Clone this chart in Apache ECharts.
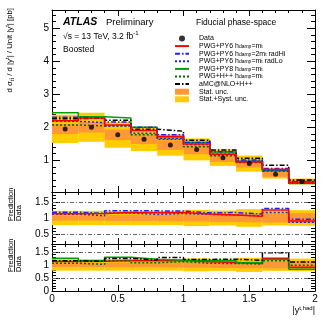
<!DOCTYPE html>
<html>
<head>
<meta charset="utf-8">
<script src="https://cdn.jsdelivr.net/npm/echarts@6/dist/echarts.min.js"></script>
<style>html,body{margin:0;padding:0;background:#fff}#chart{width:332px;height:322px}</style>
</head>
<body>
<div id="chart"></div>
<script>
// |y(t,had)| bins and measured cross-section [pb]
var binEdges = [0, 0.2, 0.4, 0.6, 0.8, 1.0, 1.2, 1.4, 1.6, 1.8, 2.0];
var dataVals = [1.95, 2.00, 1.77, 1.64, 1.46, 1.33, 1.08, 0.90, 0.58, 0.36];
// relative uncertainties
var statUnc = [0.08, 0.08, 0.09, 0.09, 0.10, 0.11, 0.12, 0.13, 0.14, 0.15];
var totUnc  = [0.22, 0.22, 0.22, 0.22, 0.22, 0.25, 0.23, 0.27, 0.23, 0.24];
// predictions [pb]
var pwgPy6 = [2.20, 2.28, 2.07, 1.90, 1.71, 1.49, 1.18, 0.945, 0.725, 0.328];
var radHi  = [2.30, 2.28, 2.16, 2.00, 1.77, 1.54, 1.26, 1.01, 0.75, 0.345];
var radLo  = [2.18, 2.14, 2.04, 1.82, 1.66, 1.48, 1.18, 0.96, 0.68, 0.313];
var pwgPy8 = [2.44, 2.32, 2.28, 2.00, 1.72, 1.54, 1.25, 0.97, 0.70, 0.30];
var pwgHpp = [2.07, 2.04, 2.05, 1.77, 1.64, 1.41, 1.14, 0.93, 0.67, 0.356];
var amcHpp = [2.26, 2.28, 2.21, 1.94, 1.88, 1.61, 1.31, 1.06, 0.85, 0.40];
// tick labels
var xLabels = [0, 0.5, 1, 1.5, 2];
var mainYLabels = [1, 2, 3, 4, 5];
var midYLabels = [0.5, 1, 1.5];
var lowYLabels = [0, 0.5, 1, 1.5];

var FONT = 'Liberation Sans, Arial, sans-serif';
var N_DATA = 'Data', N_PY6 = 'PWG+PY6', N_HI = 'PWG+PY6 radHi', N_LO = 'PWG+PY6 radLo',
    N_PY8 = 'PWG+PY8', N_HPP = 'PWG+H++', N_AMC = 'aMC@NLO+H++',
    N_STAT = 'Stat. unc.', N_TOT = 'Stat.+Syst. unc.';
var legendText = {};
legendText[N_DATA] = 'Data';
legendText[N_PY6] = 'PWG+PY6 h{s|damp}=m{s|t}';
legendText[N_HI] = 'PWG+PY6 h{s|damp}=2m{s|t} radHi';
legendText[N_LO] = 'PWG+PY6 h{s|damp}=m{s|t} radLo';
legendText[N_PY8] = 'PWG+PY8 h{s|damp}=m{s|t}';
legendText[N_HPP] = 'PWG+H++ h{s|damp}=m{s|t}';
legendText[N_AMC] = 'aMC@NLO+H++';
legendText[N_STAT] = 'Stat. unc.';
legendText[N_TOT] = 'Stat.+Syst. unc.';

var styles = {};
styles[N_PY6] = {color: '#ff0000', width: 1.5, type: 'solid'};
styles[N_HI]  = {color: '#1f1fff', width: 1.5, type: [5, 2, 1.5, 2]};
styles[N_LO]  = {color: '#1f1fff', width: 1.5, type: [2, 2]};
styles[N_PY8] = {color: '#00a000', width: 1.5, type: 'solid'};
styles[N_HPP] = {color: '#006a00', width: 1.5, type: [2, 2]};
styles[N_AMC] = {color: '#000000', width: 1.5, type: [5, 2, 1.5, 2]};

function seq(a, b, s) {
  var out = [];
  for (var v = a; v <= b + 1e-9; v += s) out.push(Math.round(v * 1000) / 1000);
  return out;
}

var grids = [], xAxes = [], yAxes = [];
function axis(list, g, pos, min, max, ticks, len, labels, line) {
  list.push({
    type: 'value', gridIndex: g, position: pos, min: min, max: max,
    axisLine: {show: line, onZero: false, lineStyle: {color: '#000', width: 1}},
    axisTick: {show: true, inside: true, length: len, customValues: ticks, lineStyle: {color: '#000', width: 1}},
    axisLabel: labels ? {show: true, customValues: labels, margin: 3, color: '#000', fontSize: 10, fontFamily: FONT} : {show: false},
    splitLine: {show: false}
  });
  return list.length - 1;
}
// one panel: frame with inside ticks on all four sides
function panel(top, height, ymin, ymax, yMaj, yMin, yLab, xLab, yLen) {
  var g = grids.length;
  grids.push({left: 52, top: top, width: 263, height: height, outerBoundsMode: 'none'});
  var xi = axis(xAxes, g, 'bottom', 0, 2, xLabels, 6, xLab, true);
  axis(xAxes, g, 'bottom', 0, 2, seq(0, 2, 0.1), 3, null, false);
  axis(xAxes, g, 'top', 0, 2, xLabels, 6, null, true);
  axis(xAxes, g, 'top', 0, 2, seq(0, 2, 0.1), 3, null, false);
  var yi = axis(yAxes, g, 'left', ymin, ymax, yMaj, yLen, yLab, true);
  axis(yAxes, g, 'left', ymin, ymax, yMin, yLen / 2, null, false);
  axis(yAxes, g, 'right', ymin, ymax, yMaj, yLen, null, true);
  axis(yAxes, g, 'right', ymin, ymax, yMin, yLen / 2, null, false);
  return {x: xi, y: yi};
}

var pMain = panel(10, 182, 0.04, 5.55, mainYLabels, seq(0.2, 5.4, 0.2), mainYLabels, null, 8);
var pMid = panel(192, 52, 0.2, 1.8, midYLabels, seq(0.3, 1.7, 0.1), midYLabels, null, 8);
var pLow = panel(244, 47, 0, 1.8, lowYLabels, seq(0, 1.8, 0.1), lowYLabels, xLabels, 8);

function bandSeries(name, color, p, lo, hi, z) {
  return {
    type: 'custom', name: name, xAxisIndex: p.x, yAxisIndex: p.y, z: z, silent: true,
    itemStyle: {color: color}, clip: true,
    encode: {x: [0, 1], y: [2, 3]},
    data: lo.map(function (v, i) { return [binEdges[i], binEdges[i + 1], v, hi[i]]; }),
    renderItem: function (params, api) {
      var a = api.coord([api.value(0), api.value(3)]);
      var b = api.coord([api.value(1), api.value(2)]);
      return {type: 'rect', shape: {x: a[0], y: a[1], width: b[0] - a[0], height: b[1] - a[1]}, style: {fill: color}};
    }
  };
}
function stepSeries(name, vals, p, z) {
  var d = vals.map(function (v, i) { return [binEdges[i], v]; });
  d.push([binEdges[vals.length], vals[vals.length - 1]]);
  var st = styles[name];
  return {
    type: 'line', name: name, step: 'end', symbol: 'none', showSymbol: false,
    xAxisIndex: p.x, yAxisIndex: p.y, z: z, data: d,
    lineStyle: {color: st.color, width: st.width, type: st.type}, itemStyle: {color: st.color}
  };
}
function ratio(vals) { return vals.map(function (v, i) { return v / dataVals[i]; }); }

var mainTotLo = dataVals.map(function (v, i) { return v * (1 - totUnc[i]); });
var mainTotHi = dataVals.map(function (v, i) { return v * (1 + totUnc[i]); });
var mainStatLo = dataVals.map(function (v, i) { return v * (1 - statUnc[i]); });
var mainStatHi = dataVals.map(function (v, i) { return v * (1 + statUnc[i]); });
var rTotLo = totUnc.map(function (u) { return 1 - u; });
var rTotHi = totUnc.map(function (u) { return 1 + u; });
var rStatLo = statUnc.map(function (u) { return 1 - u; });
var rStatHi = statUnc.map(function (u) { return 1 + u; });

function gridLines() {
  return {
    silent: true, symbol: 'none', label: {show: false},
    lineStyle: {color: '#666', width: 1, type: [4, 2, 1, 2]},
    data: [{yAxis: 0.5}, {yAxis: 1.5}]
  };
}

var midRed = stepSeries(N_PY6, ratio(pwgPy6), pMid, 4);
midRed.markLine = gridLines();
var lowRed = stepSeries(N_PY6, ratio(pwgPy6), pLow, 3);
lowRed.markLine = gridLines();

var series = [
  bandSeries(N_TOT, '#ffcc00', pMain, mainTotLo, mainTotHi, 1),
  bandSeries(N_STAT, '#ff9933', pMain, mainStatLo, mainStatHi, 2),
  stepSeries(N_PY8, pwgPy8, pMain, 3),
  stepSeries(N_HPP, pwgHpp, pMain, 3),
  stepSeries(N_AMC, amcHpp, pMain, 3),
  stepSeries(N_LO, radLo, pMain, 3),
  stepSeries(N_HI, radHi, pMain, 3),
  stepSeries(N_PY6, pwgPy6, pMain, 4),
  {
    type: 'scatter', name: N_DATA, xAxisIndex: pMain.x, yAxisIndex: pMain.y, z: 6,
    symbol: 'circle', symbolSize: 5, itemStyle: {color: '#000'},
    data: dataVals.map(function (v, i) { return [(binEdges[i] + binEdges[i + 1]) / 2, v]; })
  },

  bandSeries(N_TOT, '#ffcc00', pMid, rTotLo, rTotHi, 1),
  bandSeries(N_STAT, '#ff9933', pMid, rStatLo, rStatHi, 2),
  stepSeries(N_LO, ratio(radLo), pMid, 3),
  stepSeries(N_HI, ratio(radHi), pMid, 3),
  midRed,

  bandSeries(N_TOT, '#ffcc00', pLow, rTotLo, rTotHi, 1),
  bandSeries(N_STAT, '#ff9933', pLow, rStatLo, rStatHi, 2),
  lowRed,
  stepSeries(N_PY8, ratio(pwgPy8), pLow, 3),
  stepSeries(N_HPP, ratio(pwgHpp), pLow, 3),
  stepSeries(N_AMC, ratio(amcHpp), pLow, 3)
];

var sup = {fontSize: 6, lineHeight: 6, verticalAlign: 'top', fontFamily: FONT, fill: '#000'};
var sub = {fontSize: 6, lineHeight: 5, verticalAlign: 'bottom', fontFamily: FONT, fill: '#000'};

function txt(x, y, text, size, extra) {
  var st = {text: text, fontSize: size, fontFamily: FONT, fill: '#000', align: 'left', verticalAlign: 'middle',
            lineHeight: size + 3, rich: {p: sup, s: sub}};
  for (var k in extra) st[k] = extra[k];
  return {type: 'text', x: x, y: y, style: st, z: 100, silent: true};
}
function vtxt(x, y, text, size, align) {
  var t = txt(x, y, text, size, {align: align});
  t.rotation = Math.PI / 2;
  return t;
}
function vline(x, y1, y2) {
  return {type: 'line', shape: {x1: x, y1: y1, x2: x, y2: y2}, style: {stroke: '#000', lineWidth: 0.8}, z: 100, silent: true};
}
// legend entries for step lines: line only, no marker
var noMark = {color: 'rgba(0,0,0,0)', borderWidth: 0};
function lineEntry(n) { return {name: n, itemStyle: noMark}; }

var option = {
  animation: false,
  backgroundColor: '#fff',
  grid: grids,
  xAxis: xAxes,
  yAxis: yAxes,
  legend: {
    left: 174, top: 35, orient: 'vertical', padding: 0,
    itemWidth: 14, itemHeight: 6, itemGap: 0.6, selectedMode: false,
    textStyle: {fontSize: 7, lineHeight: 6, color: '#000', fontFamily: FONT,
      rich: {s: {fontSize: 5, lineHeight: 4, verticalAlign: 'bottom', color: '#000', fontFamily: FONT}, g: {width: 5}}},
    data: [{name: N_DATA, icon: 'circle'}, lineEntry(N_PY6), lineEntry(N_HI), lineEntry(N_LO),
           lineEntry(N_PY8), lineEntry(N_HPP), lineEntry(N_AMC),
           {name: N_STAT, icon: 'rect'}, {name: N_TOT, icon: 'rect'}],
    formatter: function (n) { return '{g|}' + legendText[n]; }
  },
  graphic: [
    txt(63, 22.5, 'ATLAS', 10.5, {fontStyle: 'italic', fontWeight: 'bold'}),
    txt(106, 22.5, 'Preliminary', 9.5),
    txt(63, 36.5, '√s = 13 TeV, 3.2 fb{p|-1}', 8.5),
    txt(63, 49.5, 'Boosted', 8.5),
    txt(196, 22.5, 'Fiducial phase-space', 8.5),
    vtxt(10, 8, 'd σ{s|tt̄} / d |y{p|t}| / Unit |y{p|t}| [pb]', 7.8, 'right'),
    vtxt(10.5, 221, 'Prediction', 7.5, 'left'),
    vtxt(18.5, 221, 'Data', 7.5, 'left'),
    vline(14.5, 189, 221),
    vtxt(10.5, 272, 'Prediction', 7.5, 'left'),
    vtxt(18.5, 272, 'Data', 7.5, 'left'),
    vline(14.5, 240, 272),
    txt(315, 311, '|y{p|t,had}|', 9, {align: 'right'})
  ],
  series: series
};

var myChart = echarts.init(document.getElementById('chart'));
myChart.setOption(option);
</script>
</body>
</html>
